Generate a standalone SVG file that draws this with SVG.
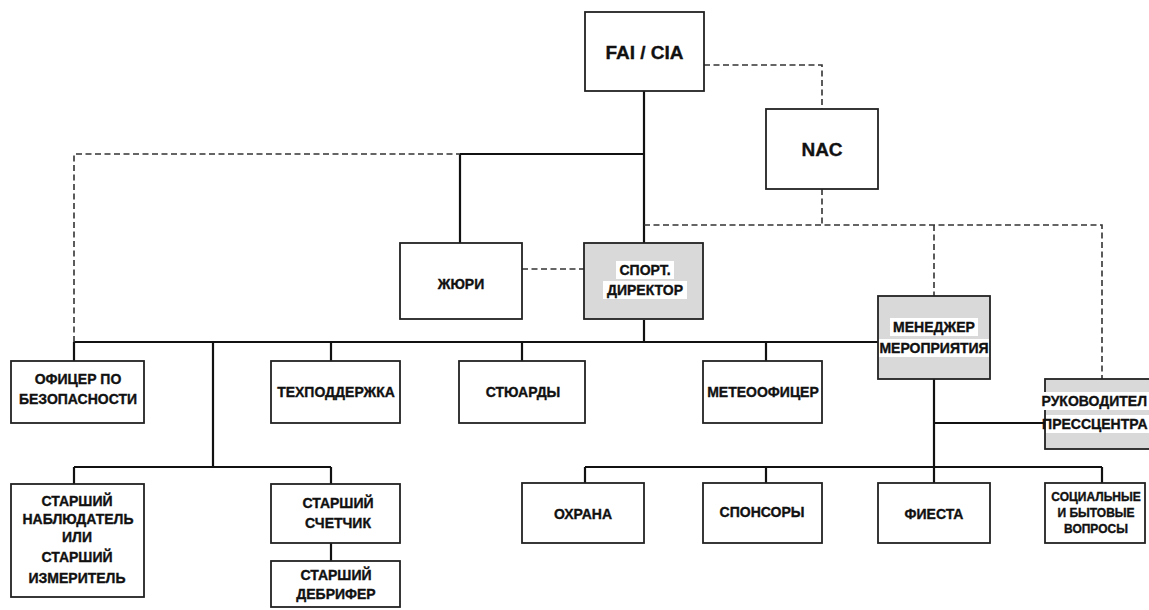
<svg xmlns="http://www.w3.org/2000/svg" width="1149" height="610" viewBox="0 0 1149 610">
<style>
.box{fill:#fff;stroke:#222;stroke-width:1.8}
.grey{fill:#d9d9d9;stroke:#222;stroke-width:1.8}
.solid{fill:none;stroke:#111;stroke-width:2.2}
.dash{fill:none;stroke:#333;stroke-width:1.6;stroke-dasharray:6 3.5}
text{font-family:"Liberation Sans",Arial,sans-serif;font-weight:bold;font-size:14px;fill:#111;stroke:#111;stroke-width:0.35;text-anchor:middle;dominant-baseline:central}
.big{font-size:19px}
.sm{font-size:12px}
.end{text-anchor:end}
.hl{fill:#fff}
</style>
<rect width="1149" height="610" fill="#fff"/>
<g id="connectors">
<path class="solid" d="M644 91V243M460 154H644M460 154V243M644 320V342M74 342H878M74 342V361M213 342V467M74 467H331M74 467V484M331 467V484M331 342V361M522 342V361M766 342V361M331 543V561M934 379V467M934 423H1045M585 467H1102M585 467V483M766 467V483M934 467V483M1102 467V483"/>
<path class="dash" d="M704 65H822V109M822 189V225M644 225H1102V379M934 225V296M74 342V154H460M522 269H584"/>
</g>
<g id="fai"><rect class="box" x="585" y="12" width="119" height="79"/><text class="big" x="644.5" y="52">FAI / CIA</text></g>
<g id="nac"><rect class="box" x="766" y="109" width="112" height="80"/><text class="big" x="822" y="149">NAC</text></g>
<g id="jury"><rect class="box" x="400" y="243" width="122" height="76"/><text x="461" y="284">ЖЮРИ</text></g>
<g id="sport"><rect class="grey" x="584" y="243" width="119" height="76"/>
<rect class="hl" x="616" y="261" width="58" height="18"/><rect class="hl" x="603" y="281" width="84" height="18"/>
<text x="645" y="270">СПОРТ.</text><text x="645" y="290">ДИРЕКТОР</text></g>
<g id="manager"><rect class="grey" x="878" y="296" width="112" height="83"/>
<rect class="hl" x="890" y="318" width="88" height="18"/><rect class="hl" x="879" y="339" width="110" height="18"/>
<text x="934" y="327">МЕНЕДЖЕР</text><text x="934" y="348">МЕРОПРИЯТИЯ</text></g>
<g id="press"><rect class="grey" x="1045" y="379" width="110" height="70"/>
<rect class="hl" x="1042" y="392" width="107" height="18"/><rect class="hl" x="1046" y="415" width="103" height="18"/>
<text class="end" x="1147" y="401">РУКОВОДИТЕЛ</text><text class="end" x="1147.5" y="424">ПРЕССЦЕНТРА</text></g>
<g id="officer"><rect class="box" x="11" y="361" width="133" height="62"/><text x="78" y="379">ОФИЦЕР ПО</text><text x="78" y="399">БЕЗОПАСНОСТИ</text></g>
<g id="tech"><rect class="box" x="271" y="361" width="129" height="62"/><text x="336" y="392">ТЕХПОДДЕРЖКА</text></g>
<g id="stewards"><rect class="box" x="459" y="361" width="126" height="62"/><text x="523" y="392">СТЮАРДЫ</text></g>
<g id="meteo"><rect class="box" x="703" y="361" width="119" height="62"/><text x="763" y="392">МЕТЕООФИЦЕР</text></g>
<g id="observer"><rect class="box" x="11" y="484" width="133" height="113"/>
<text x="77" y="501">СТАРШИЙ</text><text x="78" y="519">НАБЛЮДАТЕЛЬ</text><text x="77" y="537">ИЛИ</text><text x="77" y="557">СТАРШИЙ</text><text x="77" y="578">ИЗМЕРИТЕЛЬ</text></g>
<g id="counter"><rect class="box" x="271" y="484" width="129" height="59"/><text x="338" y="503">СТАРШИЙ</text><text x="338" y="523">СЧЕТЧИК</text></g>
<g id="debriefer"><rect class="box" x="271" y="561" width="129" height="46"/><text x="336" y="575">СТАРШИЙ</text><text x="336" y="594">ДЕБРИФЕР</text></g>
<g id="security"><rect class="box" x="522" y="483" width="122" height="60"/><text x="583" y="514">ОХРАНА</text></g>
<g id="sponsors"><rect class="box" x="703" y="483" width="119" height="60"/><text x="762" y="512">СПОНСОРЫ</text></g>
<g id="fiesta"><rect class="box" x="878" y="483" width="112" height="60"/><text x="934" y="514">ФИЕСТА</text></g>
<g id="social"><rect class="box" x="1045" y="483" width="100" height="60"/><text class="sm" x="1096" y="497">СОЦИАЛЬНЫЕ</text><text class="sm" x="1096" y="513">И БЫТОВЫЕ</text><text class="sm" x="1096" y="529">ВОПРОСЫ</text></g>
</svg>
